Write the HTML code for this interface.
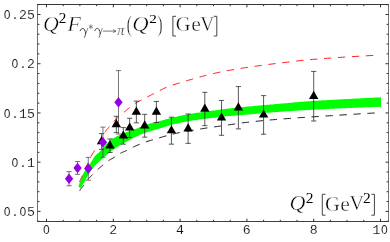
<!DOCTYPE html>
<html><head><meta charset="utf-8"><title>Chart</title>
<style>html,body{margin:0;padding:0;background:#fff;}svg{display:block}</style></head>
<body><svg width="390" height="242" viewBox="0 0 390 242" style="will-change:transform">
<defs><mask id="m" maskUnits="userSpaceOnUse" x="0" y="0" width="390" height="242"><rect width="390" height="242" fill="#fff"/></mask></defs>
<rect width="390" height="242" fill="#fff"/>
<path d="M78.40,186.50 L78.45,186.36 L78.54,186.07 L78.67,185.69 L78.84,185.21 L79.02,184.67 L79.23,184.06 L79.47,183.40 L79.72,182.69 L79.99,181.95 L80.29,181.16 L80.60,180.31 L80.92,179.43 L81.27,178.50 L81.63,177.55 L82.01,176.58 L82.40,175.61 L82.81,174.66 L83.23,173.74 L83.67,172.88 L84.12,172.05 L84.58,171.24 L85.06,170.45 L85.55,169.69 L86.05,168.93 L86.57,168.20 L87.10,167.47 L87.64,166.74 L88.19,166.02 L88.76,165.28 L89.34,164.53 L89.92,163.75 L90.52,162.94 L91.14,162.07 L91.76,161.15 L92.39,160.15 L93.04,158.98 L93.70,157.77 L94.36,156.79 L95.04,155.98 L95.73,155.25 L96.43,154.57 L97.13,153.93 L97.85,153.31 L98.58,152.66 L99.32,151.98 L100.07,151.22 L100.83,150.41 L101.60,149.55 L102.37,148.65 L103.16,147.73 L103.96,146.79 L104.77,145.84 L105.58,144.90 L106.41,143.96 L107.24,143.06 L108.08,142.19 L108.94,141.38 L109.80,140.64 L110.67,139.98 L111.55,139.37 L112.44,138.79 L113.33,138.24 L114.24,137.71 L115.16,137.21 L116.08,136.73 L117.01,136.26 L117.95,135.80 L118.90,135.35 L119.86,134.91 L120.82,134.47 L121.80,134.05 L122.78,133.63 L123.77,133.23 L124.77,132.83 L125.77,132.44 L126.79,132.06 L127.81,131.68 L128.84,131.31 L129.88,130.94 L130.93,130.57 L131.98,130.20 L133.04,129.82 L134.11,129.44 L135.19,129.05 L136.28,128.65 L137.37,128.24 L138.47,127.82 L139.58,127.37 L140.70,126.91 L141.82,126.45 L142.95,125.98 L144.09,125.52 L145.24,125.07 L146.39,124.64 L147.55,124.24 L148.72,123.88 L149.89,123.54 L151.08,123.22 L152.27,122.91 L153.46,122.61 L154.67,122.32 L155.88,122.03 L157.10,121.73 L158.33,121.43 L159.56,121.12 L160.80,120.78 L162.05,120.44 L163.30,120.09 L164.56,119.72 L165.83,119.36 L167.11,119.00 L168.39,118.64 L169.68,118.29 L170.97,117.95 L172.27,117.63 L173.58,117.32 L174.90,117.01 L176.22,116.71 L177.55,116.41 L178.89,116.11 L180.23,115.82 L181.58,115.54 L182.94,115.26 L184.30,114.99 L185.67,114.73 L187.05,114.47 L188.43,114.22 L189.82,113.98 L191.22,113.75 L192.62,113.52 L194.03,113.30 L195.44,113.08 L196.87,112.86 L198.29,112.65 L199.73,112.44 L201.17,112.23 L202.62,112.03 L204.07,111.82 L205.53,111.62 L207.00,111.42 L208.47,111.21 L209.95,111.01 L211.44,110.80 L212.93,110.59 L214.43,110.39 L215.93,110.18 L217.44,109.98 L218.96,109.77 L220.48,109.57 L222.01,109.37 L223.54,109.18 L225.08,108.98 L226.63,108.80 L228.18,108.61 L229.74,108.43 L231.31,108.25 L232.88,108.08 L234.46,107.91 L236.04,107.74 L237.63,107.58 L239.23,107.41 L240.83,107.25 L242.43,107.09 L244.05,106.93 L245.67,106.78 L247.29,106.62 L248.92,106.47 L250.56,106.32 L252.20,106.17 L253.85,106.01 L255.50,105.86 L257.16,105.72 L258.83,105.57 L260.50,105.43 L262.18,105.29 L263.86,105.15 L265.55,105.01 L267.24,104.87 L268.94,104.72 L270.65,104.57 L272.36,104.41 L274.08,104.26 L275.80,104.10 L277.53,103.94 L279.27,103.78 L281.01,103.62 L282.75,103.46 L284.50,103.29 L286.26,103.13 L288.02,102.97 L289.79,102.80 L291.56,102.64 L293.34,102.48 L295.13,102.33 L296.92,102.17 L298.71,102.02 L300.52,101.87 L302.32,101.73 L304.13,101.58 L305.95,101.45 L307.77,101.32 L309.60,101.19 L311.44,101.06 L313.28,100.94 L315.12,100.83 L316.97,100.71 L318.83,100.60 L320.69,100.48 L322.56,100.37 L324.43,100.27 L326.30,100.16 L328.19,100.05 L330.07,99.95 L331.97,99.84 L333.87,99.74 L335.77,99.63 L337.68,99.53 L339.59,99.42 L341.51,99.32 L343.44,99.21 L345.37,99.11 L347.30,99.00 L349.24,98.90 L351.19,98.79 L353.14,98.69 L355.10,98.59 L357.06,98.48 L359.03,98.38 L361.00,98.28 L362.98,98.18 L364.96,98.08 L366.94,97.98 L368.94,97.88 L370.93,97.78 L372.94,97.68 L374.95,97.59 L376.96,97.49 L378.98,97.39 L381.00,97.30 L381.00,106.80 L378.99,106.87 L376.99,106.93 L374.99,107.00 L373.00,107.07 L371.01,107.15 L369.02,107.22 L367.05,107.29 L365.07,107.37 L363.11,107.44 L361.14,107.52 L359.19,107.59 L357.23,107.67 L355.29,107.75 L353.34,107.83 L351.41,107.91 L349.48,107.99 L347.55,108.07 L345.63,108.16 L343.71,108.24 L341.80,108.32 L339.89,108.40 L337.99,108.49 L336.10,108.57 L334.21,108.66 L332.32,108.75 L330.44,108.84 L328.57,108.92 L326.70,109.01 L324.84,109.11 L322.98,109.20 L321.13,109.29 L319.28,109.39 L317.44,109.48 L315.60,109.58 L313.77,109.68 L311.94,109.78 L310.12,109.88 L308.31,109.98 L306.50,110.09 L304.69,110.19 L302.89,110.30 L301.10,110.40 L299.31,110.51 L297.53,110.62 L295.75,110.72 L293.98,110.83 L292.21,110.95 L290.45,111.06 L288.70,111.17 L286.95,111.29 L285.20,111.41 L283.47,111.53 L281.73,111.65 L280.01,111.77 L278.28,111.90 L276.57,112.02 L274.86,112.15 L273.15,112.28 L271.45,112.42 L269.76,112.56 L268.07,112.69 L266.39,112.84 L264.71,113.00 L263.04,113.17 L261.38,113.35 L259.72,113.53 L258.06,113.70 L256.42,113.87 L254.77,114.03 L253.14,114.18 L251.51,114.31 L249.88,114.45 L248.26,114.57 L246.65,114.69 L245.04,114.81 L243.44,114.93 L241.85,115.04 L240.26,115.16 L238.67,115.28 L237.09,115.40 L235.52,115.52 L233.96,115.65 L232.40,115.78 L230.84,115.92 L229.30,116.07 L227.75,116.22 L226.22,116.37 L224.69,116.52 L223.16,116.68 L221.65,116.84 L220.13,117.00 L218.63,117.17 L217.13,117.33 L215.64,117.50 L214.15,117.67 L212.67,117.85 L211.19,118.02 L209.73,118.20 L208.26,118.39 L206.81,118.57 L205.36,118.76 L203.92,118.95 L202.48,119.14 L201.05,119.34 L199.62,119.54 L198.21,119.74 L196.79,119.94 L195.39,120.15 L193.99,120.36 L192.60,120.57 L191.21,120.79 L189.83,121.00 L188.46,121.23 L187.09,121.45 L185.73,121.71 L184.38,121.97 L183.03,122.25 L181.69,122.54 L180.36,122.82 L179.03,123.10 L177.71,123.38 L176.40,123.67 L175.09,123.96 L173.79,124.26 L172.50,124.57 L171.21,124.91 L169.93,125.27 L168.66,125.65 L167.39,126.04 L166.14,126.44 L164.88,126.85 L163.64,127.25 L162.40,127.65 L161.17,128.04 L159.94,128.42 L158.73,128.78 L157.52,129.13 L156.31,129.47 L155.12,129.81 L153.93,130.16 L152.75,130.50 L151.57,130.86 L150.41,131.23 L149.25,131.61 L148.09,131.98 L146.95,132.36 L145.81,132.75 L144.68,133.14 L143.56,133.53 L142.44,133.94 L141.33,134.36 L140.23,134.78 L139.14,135.22 L138.06,135.68 L136.98,136.16 L135.91,136.68 L134.85,137.22 L133.79,137.77 L132.74,138.32 L131.71,138.85 L130.67,139.38 L129.65,139.90 L128.64,140.43 L127.63,140.97 L126.63,141.51 L125.64,142.06 L124.66,142.61 L123.68,143.16 L122.71,143.70 L121.75,144.25 L120.80,144.81 L119.86,145.37 L118.93,145.93 L118.00,146.51 L117.09,147.09 L116.18,147.68 L115.28,148.27 L114.39,148.88 L113.51,149.51 L112.64,150.14 L111.77,150.79 L110.92,151.45 L110.07,152.11 L109.23,152.78 L108.40,153.46 L107.58,154.13 L106.77,154.81 L105.97,155.49 L105.18,156.17 L104.40,156.85 L103.63,157.54 L102.86,158.25 L102.11,158.96 L101.37,159.67 L100.63,160.38 L99.91,161.06 L99.20,161.73 L98.49,162.37 L97.80,163.01 L97.12,163.65 L96.45,164.28 L95.78,164.93 L95.13,165.59 L94.49,166.27 L93.86,166.98 L93.24,167.71 L92.64,168.47 L92.04,169.25 L91.46,170.06 L90.88,170.87 L90.32,171.70 L89.77,172.54 L89.23,173.37 L88.71,174.21 L88.20,175.03 L87.70,175.85 L87.21,176.65 L86.73,177.48 L86.27,178.32 L85.83,179.17 L85.39,179.99 L84.98,180.79 L84.57,181.54 L84.18,182.23 L83.81,182.89 L83.45,183.50 L83.11,184.09 L82.78,184.64 L82.47,185.16 L82.18,185.64 L81.91,186.09 L81.66,186.50 L81.43,186.88 L81.22,187.22 L81.03,187.51 L80.87,187.77 L80.74,187.98 L80.65,188.13 L80.60,188.20Z" fill="#00ff00"/>
<path d="M79.30,182.30 L79.35,182.20 L79.44,181.98 L79.57,181.69 L79.73,181.34 L79.92,180.93 L80.13,180.46 L80.36,179.94 L80.61,179.38 L80.88,178.77 L81.17,178.12 L81.48,177.42 L81.81,176.68 L82.15,175.90 L82.51,175.07 L82.88,174.19 L83.27,173.27 L83.68,172.31 L84.10,171.32 L84.53,170.32 L84.98,169.30 L85.44,168.27 L85.91,167.26 L86.40,166.28 L86.90,165.32 L87.41,164.35 L87.94,163.34 L88.48,162.26 L89.03,161.05 L89.59,159.73 L90.16,158.38 L90.75,157.11 L91.34,155.95 L91.95,154.84 L92.57,153.77 L93.20,152.71 L93.84,151.62 L94.49,150.48 L95.16,149.29 L95.83,148.07 L96.51,146.81 L97.21,145.52 L97.91,144.21 L98.62,142.89 L99.35,141.55 L100.08,140.21 L100.83,138.88 L101.58,137.55 L102.34,136.25 L103.12,134.98 L103.90,133.74 L104.69,132.56 L105.49,131.44 L106.30,130.38 L107.12,129.36 L107.95,128.35 L108.79,127.34 L109.64,126.29 L110.49,125.22 L111.36,124.15 L112.23,123.09 L113.11,122.07 L114.00,121.10 L114.90,120.19 L115.81,119.30 L116.73,118.45 L117.66,117.61 L118.59,116.79 L119.53,115.98 L120.48,115.18 L121.44,114.38 L122.41,113.57 L123.38,112.76 L124.37,111.93 L125.36,111.08 L126.36,110.23 L127.37,109.38 L128.38,108.55 L129.41,107.73 L130.44,106.93 L131.48,106.12 L132.53,105.33 L133.58,104.56 L134.64,103.82 L135.72,103.13 L136.79,102.48 L137.88,101.87 L138.97,101.28 L140.07,100.70 L141.18,100.13 L142.30,99.54 L143.42,98.95 L144.55,98.37 L145.69,97.78 L146.84,97.20 L147.99,96.61 L149.15,96.01 L150.32,95.40 L151.50,94.79 L152.68,94.18 L153.87,93.57 L155.06,92.96 L156.27,92.34 L157.48,91.71 L158.70,91.07 L159.92,90.43 L161.15,89.80 L162.39,89.19 L163.64,88.59 L164.89,88.02 L166.15,87.48 L167.42,86.98 L168.69,86.49 L169.97,86.02 L171.26,85.57 L172.55,85.12 L173.86,84.69 L175.16,84.27 L176.48,83.85 L177.80,83.44 L179.13,83.04 L180.46,82.64 L181.80,82.24 L183.15,81.84 L184.50,81.44 L185.86,81.04 L187.23,80.63 L188.60,80.22 L189.98,79.81 L191.37,79.41 L192.76,79.00 L194.16,78.60 L195.57,78.19 L196.98,77.80 L198.40,77.40 L199.83,77.01 L201.26,76.63 L202.70,76.25 L204.14,75.87 L205.59,75.50 L207.05,75.14 L208.51,74.78 L209.98,74.41 L211.46,74.05 L212.94,73.70 L214.43,73.35 L215.92,73.00 L217.42,72.66 L218.93,72.33 L220.44,72.00 L221.96,71.69 L223.48,71.39 L225.01,71.10 L226.55,70.81 L228.09,70.54 L229.64,70.26 L231.20,69.99 L232.76,69.72 L234.33,69.45 L235.90,69.19 L237.48,68.93 L239.06,68.67 L240.65,68.42 L242.25,68.17 L243.85,67.92 L245.46,67.67 L247.07,67.43 L248.69,67.19 L250.32,66.95 L251.95,66.71 L253.59,66.48 L255.23,66.25 L256.88,66.01 L258.54,65.79 L260.20,65.56 L261.86,65.33 L263.54,65.11 L265.21,64.89 L266.90,64.67 L268.59,64.45 L270.28,64.23 L271.98,64.01 L273.69,63.79 L275.40,63.58 L277.12,63.36 L278.84,63.16 L280.57,62.96 L282.30,62.76 L284.04,62.57 L285.79,62.38 L287.54,62.18 L289.29,61.98 L291.06,61.77 L292.82,61.55 L294.60,61.33 L296.37,61.10 L298.16,60.87 L299.95,60.65 L301.74,60.44 L303.54,60.25 L305.35,60.07 L307.16,59.90 L308.98,59.73 L310.80,59.57 L312.62,59.41 L314.46,59.26 L316.30,59.11 L318.14,58.96 L319.99,58.82 L321.84,58.68 L323.70,58.54 L325.57,58.40 L327.44,58.27 L329.31,58.13 L331.19,58.00 L333.08,57.87 L334.97,57.74 L336.87,57.61 L338.77,57.48 L340.67,57.35 L342.59,57.23 L344.50,57.10 L346.43,56.98 L348.35,56.86 L350.29,56.74 L352.23,56.62 L354.17,56.51 L356.12,56.39 L358.07,56.28 L360.03,56.16 L361.99,56.05 L363.96,55.94 L365.94,55.82 L367.92,55.71 L369.90,55.59 L371.89,55.48 L373.89,55.36 L375.89,55.24 L377.89,55.12 L379.90,55.00" fill="none" stroke="#ff0d0d" stroke-width="0.95" stroke-dasharray="7.3 6.7" stroke-dashoffset="-0.14"/>
<path d="M79.20,191.60 L79.25,191.51 L79.34,191.34 L79.47,191.11 L79.63,190.82 L79.82,190.50 L80.03,190.15 L80.26,189.77 L80.51,189.38 L80.79,188.99 L81.08,188.58 L81.39,188.18 L81.71,187.76 L82.06,187.34 L82.42,186.90 L82.79,186.44 L83.18,185.95 L83.59,185.42 L84.01,184.84 L84.44,184.22 L84.89,183.56 L85.35,182.87 L85.83,182.16 L86.32,181.45 L86.82,180.73 L87.33,180.03 L87.86,179.37 L88.40,178.75 L88.95,178.16 L89.51,177.58 L90.08,177.02 L90.67,176.46 L91.27,175.90 L91.88,175.32 L92.50,174.70 L93.13,174.06 L93.77,173.40 L94.42,172.74 L95.09,172.06 L95.76,171.38 L96.45,170.71 L97.14,170.05 L97.85,169.40 L98.56,168.76 L99.29,168.13 L100.02,167.51 L100.77,166.88 L101.52,166.26 L102.29,165.62 L103.06,164.98 L103.85,164.32 L104.64,163.64 L105.44,162.97 L106.26,162.30 L107.08,161.66 L107.91,161.06 L108.75,160.51 L109.60,159.99 L110.45,159.49 L111.32,159.01 L112.20,158.52 L113.08,158.02 L113.97,157.50 L114.87,156.93 L115.79,156.32 L116.70,155.69 L117.63,155.04 L118.57,154.41 L119.51,153.81 L120.46,153.27 L121.43,152.78 L122.39,152.34 L123.37,151.92 L124.36,151.50 L125.35,151.07 L126.35,150.62 L127.36,150.12 L128.38,149.58 L129.41,149.02 L130.44,148.46 L131.48,147.90 L132.53,147.38 L133.59,146.89 L134.66,146.42 L135.73,145.95 L136.81,145.49 L137.90,145.04 L138.99,144.59 L140.10,144.14 L141.21,143.68 L142.33,143.22 L143.45,142.77 L144.59,142.34 L145.73,141.93 L146.87,141.54 L148.03,141.18 L149.19,140.84 L150.36,140.50 L151.54,140.15 L152.72,139.80 L153.92,139.44 L155.12,139.08 L156.32,138.71 L157.54,138.35 L158.76,137.98 L159.98,137.61 L161.22,137.25 L162.46,136.89 L163.71,136.53 L164.96,136.18 L166.23,135.84 L167.49,135.50 L168.77,135.17 L170.05,134.83 L171.34,134.50 L172.64,134.17 L173.94,133.85 L175.25,133.53 L176.57,133.23 L177.89,132.93 L179.22,132.65 L180.56,132.38 L181.91,132.11 L183.26,131.86 L184.61,131.62 L185.98,131.38 L187.35,131.15 L188.72,130.91 L190.11,130.68 L191.50,130.45 L192.89,130.22 L194.29,129.98 L195.70,129.75 L197.12,129.51 L198.54,129.28 L199.97,129.05 L201.40,128.82 L202.84,128.59 L204.29,128.36 L205.74,128.14 L207.20,127.92 L208.67,127.70 L210.14,127.49 L211.62,127.27 L213.11,127.06 L214.60,126.85 L216.09,126.64 L217.60,126.43 L219.11,126.21 L220.62,126.00 L222.14,125.78 L223.67,125.56 L225.21,125.35 L226.75,125.13 L228.29,124.91 L229.84,124.68 L231.40,124.46 L232.97,124.23 L234.54,124.00 L236.11,123.76 L237.69,123.54 L239.28,123.31 L240.87,123.10 L242.47,122.89 L244.08,122.68 L245.69,122.48 L247.31,122.28 L248.93,122.09 L250.56,121.90 L252.20,121.71 L253.84,121.53 L255.48,121.35 L257.14,121.18 L258.79,121.02 L260.46,120.86 L262.13,120.70 L263.80,120.55 L265.48,120.40 L267.17,120.25 L268.86,120.10 L270.56,119.95 L272.27,119.80 L273.97,119.66 L275.69,119.52 L277.41,119.38 L279.14,119.24 L280.87,119.10 L282.61,118.96 L284.35,118.82 L286.10,118.69 L287.85,118.55 L289.61,118.41 L291.38,118.28 L293.15,118.15 L294.93,118.02 L296.71,117.89 L298.49,117.77 L300.29,117.65 L302.09,117.53 L303.89,117.41 L305.70,117.30 L307.51,117.18 L309.33,117.07 L311.16,116.95 L312.99,116.84 L314.83,116.72 L316.67,116.60 L318.52,116.48 L320.37,116.36 L322.23,116.24 L324.09,116.12 L325.96,116.00 L327.83,115.88 L329.71,115.76 L331.59,115.64 L333.48,115.52 L335.38,115.39 L337.28,115.27 L339.19,115.15 L341.10,115.03 L343.01,114.91 L344.93,114.79 L346.86,114.67 L348.79,114.54 L350.73,114.42 L352.67,114.30 L354.62,114.18 L356.57,114.06 L358.53,113.94 L360.49,113.82 L362.46,113.70 L364.43,113.58 L366.41,113.47 L368.39,113.35 L370.38,113.23 L372.37,113.12 L374.37,113.01 L376.38,112.90 L378.39,112.80 L380.40,112.70" fill="none" stroke="#1c1c1c" stroke-width="1.0" stroke-dasharray="7.3 6.7" stroke-dashoffset="-0.80"/>
<path d="M101.61,133.62V149.38M99.01,133.62h5.20M99.01,149.38h5.20M109.96,138.94V152.53M107.36,138.94h5.20M107.36,152.53h5.20M116.31,116.30V132.64M113.71,116.30h5.20M113.71,132.64h5.20M123.32,127.62V144.16M120.72,127.62h5.20M120.72,144.16h5.20M129.67,118.27V137.56M127.07,118.27h5.20M127.07,137.56h5.20M136.35,101.14V122.80M133.75,101.14h5.20M133.75,122.80h5.20M144.70,114.33V137.17M142.10,114.33h5.20M142.10,137.17h5.20M156.39,101.43V122.50M153.79,101.43h5.20M153.79,122.50h5.20M171.42,117.18V144.16M168.82,117.18h5.20M168.82,144.16h5.20M188.12,114.03V143.37M185.52,114.03h5.20M185.52,143.37h5.20M204.82,92.37V125.65M202.22,92.37h5.20M202.22,125.65h5.20M221.52,100.45V135.30M218.92,100.45h5.20M218.92,135.30h5.20M238.38,86.57V128.90M235.78,86.57h5.20M235.78,128.90h5.20M263.60,95.62V134.22M261.00,95.62h5.20M261.00,134.22h5.20M313.70,71.40V121.02M311.10,71.40h5.20M311.10,121.02h5.20" fill="none" stroke="#2e2e2e" stroke-width="0.8"/>
<path d="M69.05,171.63V185.80M66.45,171.63h5.20M66.45,185.80h5.20M77.56,161.58V174.38M74.96,161.58h5.20M74.96,174.38h5.20M88.25,157.35V180.19M85.65,157.35h5.20M85.65,180.19h5.20M102.95,127.13V157.25M100.35,127.13h5.20M100.35,157.25h5.20M118.48,70.62V134.02M115.88,70.62h5.20M115.88,134.02h5.20" fill="none" stroke="#4a4a4a" stroke-width="0.75"/>
<path d="M101.61,136.10L106.31,144.20L96.91,144.20Z" fill="#000"/>
<path d="M109.96,140.33L114.66,148.43L105.26,148.43Z" fill="#000"/>
<path d="M116.31,119.07L121.01,127.17L111.61,127.17Z" fill="#000"/>
<path d="M123.32,130.49L128.02,138.59L118.62,138.59Z" fill="#000"/>
<path d="M129.67,122.51L134.37,130.61L124.97,130.61Z" fill="#000"/>
<path d="M136.35,106.57L141.05,114.67L131.65,114.67Z" fill="#000"/>
<path d="M144.70,120.35L149.40,128.45L140.00,128.45Z" fill="#000"/>
<path d="M156.39,106.57L161.09,114.67L151.69,114.67Z" fill="#000"/>
<path d="M171.42,125.27L176.12,133.37L166.72,133.37Z" fill="#000"/>
<path d="M188.12,123.30L192.82,131.40L183.42,131.40Z" fill="#000"/>
<path d="M204.82,103.61L209.52,111.71L200.12,111.71Z" fill="#000"/>
<path d="M221.52,112.47L226.22,120.57L216.82,120.57Z" fill="#000"/>
<path d="M238.38,102.33L243.08,110.43L233.68,110.43Z" fill="#000"/>
<path d="M263.60,109.52L268.30,117.62L258.90,117.62Z" fill="#000"/>
<path d="M313.70,90.81L318.40,98.91L309.00,98.91Z" fill="#000"/>
<path d="M69.05,173.41L73.20,178.71L69.05,184.01L64.89,178.71Z" fill="#9600e1"/>
<path d="M77.56,162.68L81.71,167.98L77.56,173.28L73.41,167.98Z" fill="#9600e1"/>
<path d="M88.25,163.08L92.40,168.38L88.25,173.68L84.10,168.38Z" fill="#9600e1"/>
<path d="M102.95,136.89L107.10,142.19L102.95,147.49L98.80,142.19Z" fill="#9600e1"/>
<path d="M118.48,97.02L122.63,102.32L118.48,107.62L114.33,102.32Z" fill="#9600e1"/>
<path d="M37.0,4.5H389.0" stroke="#383838" stroke-width="1" fill="none"/>
<path d="M37.0,221.5H389.0" stroke="#404040" stroke-width="1" fill="none"/>
<path d="M37.5,4.5V221.5" stroke="#707070" stroke-width="1" fill="none"/>
<path d="M388.5,4.5V221.5" stroke="#747474" stroke-width="1" fill="none"/>
<path d="M46.50,221.5v-2.8M46.50,4.5v2.8M63.20,221.5v-1.7M63.20,4.5v1.7M79.90,221.5v-1.7M79.90,4.5v1.7M96.60,221.5v-1.7M96.60,4.5v1.7M113.30,221.5v-2.8M113.30,4.5v2.8M130.00,221.5v-1.7M130.00,4.5v1.7M146.70,221.5v-1.7M146.70,4.5v1.7M163.40,221.5v-1.7M163.40,4.5v1.7M180.10,221.5v-2.8M180.10,4.5v2.8M196.80,221.5v-1.7M196.80,4.5v1.7M213.50,221.5v-1.7M213.50,4.5v1.7M230.20,221.5v-1.7M230.20,4.5v1.7M246.90,221.5v-2.8M246.90,4.5v2.8M263.60,221.5v-1.7M263.60,4.5v1.7M280.30,221.5v-1.7M280.30,4.5v1.7M297.00,221.5v-1.7M297.00,4.5v1.7M313.70,221.5v-2.8M313.70,4.5v2.8M330.40,221.5v-1.7M330.40,4.5v1.7M347.10,221.5v-1.7M347.10,4.5v1.7M363.80,221.5v-1.7M363.80,4.5v1.7M380.50,221.5v-2.8M380.50,4.5v2.8M37.5,221.25h1.9M388.5,221.25h-1.9M37.5,211.40h3.0M388.5,211.40h-3.0M37.5,201.56h1.9M388.5,201.56h-1.9M37.5,191.71h1.9M388.5,191.71h-1.9M37.5,181.86h1.9M388.5,181.86h-1.9M37.5,172.02h1.9M388.5,172.02h-1.9M37.5,162.17h3.0M388.5,162.17h-3.0M37.5,152.33h1.9M388.5,152.33h-1.9M37.5,142.49h1.9M388.5,142.49h-1.9M37.5,132.64h1.9M388.5,132.64h-1.9M37.5,122.79h1.9M388.5,122.79h-1.9M37.5,112.95h3.0M388.5,112.95h-3.0M37.5,103.10h1.9M388.5,103.10h-1.9M37.5,93.26h1.9M388.5,93.26h-1.9M37.5,83.42h1.9M388.5,83.42h-1.9M37.5,73.57h1.9M388.5,73.57h-1.9M37.5,63.72h3.0M388.5,63.72h-3.0M37.5,53.88h1.9M388.5,53.88h-1.9M37.5,44.03h1.9M388.5,44.03h-1.9M37.5,34.19h1.9M388.5,34.19h-1.9M37.5,24.35h1.9M388.5,24.35h-1.9M37.5,14.50h3.0M388.5,14.50h-3.0M37.5,4.65h1.9M388.5,4.65h-1.9" fill="none" stroke="#303030" stroke-width="1"/>
<g mask="url(#m)" font-family="Liberation Mono, monospace" font-size="13.2" fill="#111" stroke="#fff" stroke-width="0.12">
<text transform="translate(3.68,19.10) scale(0.860,1)" font-size="13.20" font-family="Liberation Mono, monospace" fill="#111" stroke="#fff" stroke-width="0.12">O</text>
<text x="11.04" y="19.10">.</text>
<text x="18.96" y="19.10">2</text>
<text x="26.88" y="19.10">5</text>
<text transform="translate(11.60,68.32) scale(0.860,1)" font-size="13.20" font-family="Liberation Mono, monospace" fill="#111" stroke="#fff" stroke-width="0.12">O</text>
<text x="18.96" y="68.32">.</text>
<text x="26.88" y="68.32">2</text>
<text transform="translate(3.68,117.55) scale(0.860,1)" font-size="13.20" font-family="Liberation Mono, monospace" fill="#111" stroke="#fff" stroke-width="0.12">O</text>
<text x="11.04" y="117.55">.</text>
<text x="18.96" y="117.55">1</text>
<text x="26.88" y="117.55">5</text>
<text transform="translate(11.60,166.77) scale(0.860,1)" font-size="13.20" font-family="Liberation Mono, monospace" fill="#111" stroke="#fff" stroke-width="0.12">O</text>
<text x="18.96" y="166.77">.</text>
<text x="26.88" y="166.77">1</text>
<text transform="translate(3.68,216.00) scale(0.860,1)" font-size="13.20" font-family="Liberation Mono, monospace" fill="#111" stroke="#fff" stroke-width="0.12">O</text>
<text x="11.04" y="216.00">.</text>
<text transform="translate(19.52,216.00) scale(0.860,1)" font-size="13.20" font-family="Liberation Mono, monospace" fill="#111" stroke="#fff" stroke-width="0.12">O</text>
<text x="26.88" y="216.00">5</text>
<text transform="translate(43.00,234.20) scale(0.860,1)" font-size="13.20" font-family="Liberation Mono, monospace" fill="#111" stroke="#fff" stroke-width="0.12">O</text>
<text x="109.24" y="234.20">2</text>
<text x="176.04" y="234.20">4</text>
<text x="242.84" y="234.20">6</text>
<text x="309.64" y="234.20">8</text>
<text x="372.48" y="234.20">1</text>
<text transform="translate(380.96,234.20) scale(0.860,1)" font-size="13.20" font-family="Liberation Mono, monospace" fill="#111" stroke="#fff" stroke-width="0.12">O</text>
</g>
<g mask="url(#m)">
<text transform="translate(42.89,31.30) scale(1.074,1)" font-size="20.39" font-family="Liberation Serif, serif" font-style="italic" fill="#000" stroke="#fff" stroke-width="0.42">Q</text>
<text transform="translate(58.73,23.20) scale(1.119,1)" font-size="13.59" font-family="Liberation Serif, serif" fill="#000" >2</text>
<text transform="translate(67.62,31.30) scale(1.072,1)" font-size="20.46" font-family="Liberation Serif, serif" font-style="italic" fill="#000" stroke="#fff" stroke-width="0.42">F</text>
<g transform="translate(0,0)" fill="none" stroke="#3c3c3c" stroke-linecap="round"><path d="M80.2,30.7C80.7,29.3 81.7,28.4 82.8,28.4C84.2,28.4 85.2,30.5 85.7,33.3" stroke-width="1.0"/><path d="M85.7,33.3C85.7,34.8 85.1,36.3 84.5,37.3" stroke-width="0.85"/><path d="M87.7,28.4C87.2,30 86.4,31.8 85.7,33.3" stroke-width="0.6"/></g>
<path d="M90.80,24.40L90.80,29.00M88.81,25.55L92.79,27.85M88.81,27.85L92.79,25.55" fill="none" stroke="#555" stroke-width="0.65"/>
<g transform="translate(14.6,0)" fill="none" stroke="#3c3c3c" stroke-linecap="round"><path d="M80.2,30.7C80.7,29.3 81.7,28.4 82.8,28.4C84.2,28.4 85.2,30.5 85.7,33.3" stroke-width="1.0"/><path d="M85.7,33.3C85.7,34.8 85.1,36.3 84.5,37.3" stroke-width="0.85"/><path d="M87.7,28.4C87.2,30 86.4,31.8 85.7,33.3" stroke-width="0.6"/></g>
<path d="M102.9,31.1H115.5M113.3,29.1Q114.0,30.8 115.9,31.1Q114.0,31.4 113.3,33.1" fill="none" stroke="#3c3c3c" stroke-width="0.7"/>
<text transform="translate(117.02,34.56) scale(1.050,1)" font-size="14.51" font-family="Liberation Serif, serif" font-style="italic" fill="#3c3c3c" stroke="#fff" stroke-width="0.2">π</text>
<text transform="translate(126.85,31.86) scale(0.651,1)" font-size="22.72" font-family="Liberation Serif, serif" fill="#000" stroke="#fff" stroke-width="0.42">(</text>
<text transform="translate(132.25,31.30) scale(1.112,1)" font-size="20.39" font-family="Liberation Serif, serif" font-style="italic" fill="#000" stroke="#fff" stroke-width="0.42">Q</text>
<text transform="translate(149.23,23.20) scale(1.132,1)" font-size="13.44" font-family="Liberation Serif, serif" fill="#000" >2</text>
<text transform="translate(157.51,31.86) scale(0.668,1)" font-size="22.72" font-family="Liberation Serif, serif" fill="#000" stroke="#fff" stroke-width="0.42">)</text>
<path d="M176.0,16.3H172.9V36.0H176.0" fill="none" stroke="#222" stroke-width="0.85"/>
<text transform="translate(175.86,31.40) scale(0.989,1)" font-size="20.69" font-family="Liberation Serif, serif" fill="#000" stroke="#fff" stroke-width="0.42">G</text>
<text transform="translate(191.16,31.40) scale(1.061,1)" font-size="20.37" font-family="Liberation Serif, serif" fill="#000" stroke="#fff" stroke-width="0.42">e</text>
<text transform="translate(200.18,31.30) scale(0.950,1)" font-size="20.46" font-family="Liberation Serif, serif" fill="#000" stroke="#fff" stroke-width="0.42">V</text>
<path d="M213.8,16.3H216.8V36.0H213.8" fill="none" stroke="#222" stroke-width="0.85"/>
<text transform="translate(289.48,210.40) scale(1.074,1)" font-size="20.54" font-family="Liberation Serif, serif" font-style="italic" fill="#000" stroke="#fff" stroke-width="0.42">Q</text>
<text transform="translate(305.72,202.70) scale(1.125,1)" font-size="13.74" font-family="Liberation Serif, serif" fill="#000" >2</text>
<path d="M325.5,194.3H322.3V215.2H325.5" fill="none" stroke="#222" stroke-width="0.85"/>
<text transform="translate(325.05,210.50) scale(0.989,1)" font-size="20.84" font-family="Liberation Serif, serif" fill="#000" stroke="#fff" stroke-width="0.42">G</text>
<text transform="translate(340.36,210.50) scale(1.061,1)" font-size="20.37" font-family="Liberation Serif, serif" fill="#000" stroke="#fff" stroke-width="0.42">e</text>
<text transform="translate(349.57,210.40) scale(0.977,1)" font-size="20.62" font-family="Liberation Serif, serif" fill="#000" stroke="#fff" stroke-width="0.42">V</text>
<text transform="translate(363.12,202.60) scale(1.125,1)" font-size="13.74" font-family="Liberation Serif, serif" fill="#000" >2</text>
<path d="M371.4,194.3H374.4V215.2H371.4" fill="none" stroke="#222" stroke-width="0.85"/>
</g>
</svg></body></html>
